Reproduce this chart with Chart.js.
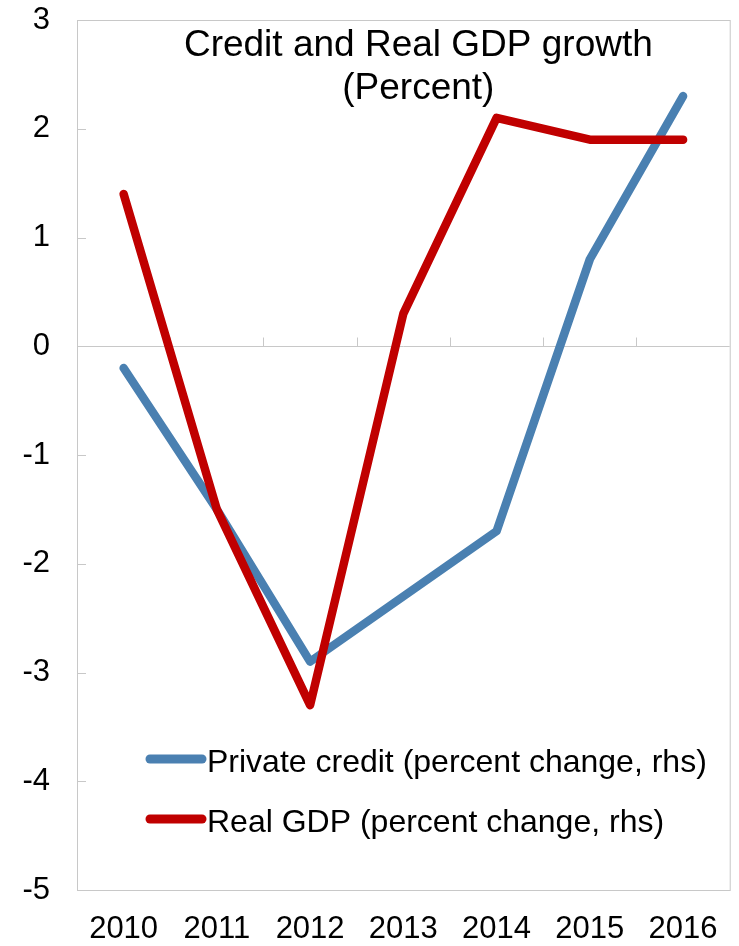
<!DOCTYPE html>
<html lang="en">
<head>
<meta charset="UTF-8">
<title>Credit and Real GDP growth</title>
<script src="https://cdn.jsdelivr.net/npm/chart.js@4.4.1/dist/chart.umd.min.js"></script>
<style>
    html, body { margin: 0; padding: 0; background: #fff; }
    #wrap { width: 739px; height: 946px; }
</style>
</head>
<body>
<div id="wrap"><canvas id="chart"></canvas></div>
<script>
    const years = ['2010', '2011', '2012', '2013', '2014', '2015', '2016'];
    const privateCredit = [-0.2, -1.5, -2.9, -2.3, -1.7, 0.8, 2.3];
    const realGdp = [1.4, -1.5, -3.3, 0.3, 2.1, 1.9, 1.9];
    const titleLines = ['Credit and Real GDP growth', '(Percent)'];
    const seriesNames = ['Private credit (percent change, rhs)', 'Real GDP (percent change, rhs)'];

    const FONT = 'Arial, "Liberation Sans", sans-serif';
    const frameColor = '#c8c8c8';

    // frame, zero line, inner ticks, title and legend drawn onto the canvas
    const decor = {
        id: 'decor',
        beforeDatasetsDraw(chart) {
            const { ctx, chartArea: a, scales: { x, y } } = chart;
            ctx.save();
            ctx.strokeStyle = frameColor;
            ctx.lineWidth = 1;
            ctx.strokeRect(a.left + 0.5, a.top + 0.5, a.right - a.left, a.bottom - a.top);

            const y0 = Math.round(y.getPixelForValue(0)) + 0.5;
            ctx.beginPath();
            ctx.moveTo(a.left, y0);
            ctx.lineTo(a.right, y0);
            // category boundary ticks on the zero line
            const step = x.getPixelForValue(1) - x.getPixelForValue(0);
            for (let i = 1; i < years.length; i++) {
                const bx = Math.round(x.getPixelForValue(i) - step / 2) + 0.5;
                ctx.moveTo(bx, y0);
                ctx.lineTo(bx, y0 - 9);
            }
            // value ticks pointing into the plot
            y.ticks.forEach(t => {
                const ty = Math.round(y.getPixelForValue(t.value)) + 0.5;
                ctx.moveTo(a.left, ty);
                ctx.lineTo(a.left + 9, ty);
            });
            ctx.stroke();
            ctx.restore();
        },
        afterDraw(chart) {
            const { ctx, chartArea: a } = chart;
            ctx.save();
            ctx.fillStyle = '#000';
            ctx.font = '37px ' + FONT;
            ctx.textAlign = 'center';
            ctx.textBaseline = 'alphabetic';
            const cx = (a.left + a.right) / 2 + 15;
            ctx.fillText(titleLines[0], cx, a.top + 36);
            ctx.fillText(titleLines[1], cx, a.top + 79);

            ctx.font = '32px ' + FONT;
            ctx.textAlign = 'left';
            chart.data.datasets.forEach((ds, i) => {
                const ly = a.top + 739 + i * 60;
                ctx.strokeStyle = ds.borderColor;
                ctx.lineWidth = 9;
                ctx.lineCap = 'round';
                ctx.beginPath();
                ctx.moveTo(a.left + 73, ly);
                ctx.lineTo(a.left + 125, ly);
                ctx.stroke();
                ctx.fillText(ds.label, a.left + 130, ly + 13);
            });
            ctx.restore();
        }
    };

    new Chart(document.getElementById('chart'), {
        type: 'line',
        data: {
            labels: years,
            datasets: [
                {
                    label: seriesNames[0],
                    data: privateCredit,
                    borderColor: '#4a80b1',
                    order: 1
                },
                {
                    label: seriesNames[1],
                    data: realGdp,
                    borderColor: '#c00000',
                    order: 0
                }
            ]
        },
        options: {
            responsive: true,
            maintainAspectRatio: false,
            animation: false,
            layout: { padding: { top: 0, right: 6, left: 0, bottom: 0 } },
            elements: {
                line: { borderWidth: 8.5, tension: 0, borderCapStyle: 'round', borderJoinStyle: 'round' },
                point: { radius: 0 }
            },
            plugins: {
                legend: { display: false },
                title: { display: false },
                tooltip: { enabled: false }
            },
            scales: {
                x: {
                    offset: true,
                    grid: { display: false, drawTicks: false },
                    border: { display: false },
                    ticks: { color: '#000', font: { family: FONT, size: 31 }, padding: 21, maxRotation: 0, autoSkip: false },
                    afterFit(s) { s.height = 56; }
                },
                y: {
                    min: -5,
                    max: 3,
                    grid: { display: false, drawTicks: false },
                    border: { display: false },
                    ticks: { stepSize: 1, color: '#000', font: { family: FONT, size: 31 }, padding: 27 },
                    afterFit(s) { s.width = 77; s.paddingTop = 20; s.paddingBottom = 0; }
                }
            }
        },
        plugins: [decor]
    });
</script>
</body>
</html>
